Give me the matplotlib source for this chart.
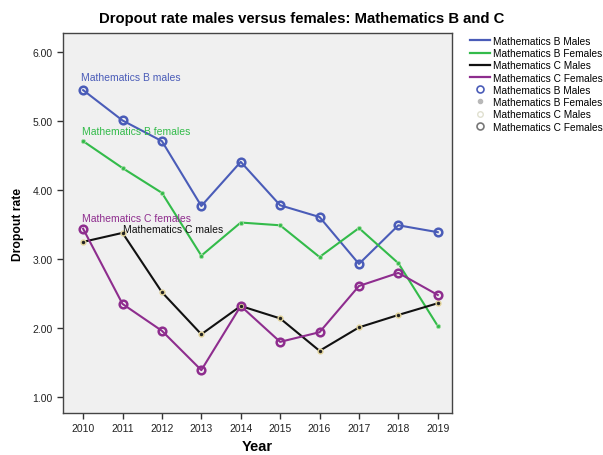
import matplotlib
matplotlib.use("Agg")
import matplotlib.pyplot as plt
from matplotlib.lines import Line2D

plt.rcParams["font.family"] = ["Liberation Sans", "DejaVu Sans"]

years = [2010, 2011, 2012, 2013, 2014, 2015, 2016, 2017, 2018, 2019]
b_males = [5.45, 5.01, 4.71, 3.77, 4.41, 3.78, 3.61, 2.93, 3.49, 3.39]
b_females = [4.71, 4.32, 3.96, 3.05, 3.53, 3.49, 3.03, 3.45, 2.94, 2.03]
c_males = [3.25, 3.38, 2.52, 1.91, 2.32, 2.14, 1.67, 2.01, 2.19, 2.36]
c_females = [3.44, 2.35, 1.96, 1.39, 2.32, 1.80, 1.94, 2.61, 2.80, 2.48]
series_names = ["Mathematics B Males", "Mathematics B Females",
                "Mathematics C Males", "Mathematics C Females"]
y_ticks = [1.0, 2.0, 3.0, 4.0, 5.0, 6.0]

c_bm = "#4a5cb8"
c_bf = "#33bb4a"
c_cm = "#111111"
c_cf = "#8e2d8e"

fig = plt.figure(figsize=(6.03, 4.56), dpi=100)
ax = fig.add_axes([0.1045, 0.092, 0.645, 0.833])
ax.set_facecolor("#f0f0f0")

ax.plot(years, b_males, color=c_bm, lw=1.5, zorder=2)
ax.plot(years, b_females, color=c_bf, lw=1.5, zorder=2)
ax.plot(years, c_males, color=c_cm, lw=1.5, zorder=2)
ax.plot(years, c_females, color=c_cf, lw=1.5, zorder=2)

ax.plot(years, b_males, ls="none", marker="o", ms=5.5, mfc="none", mec=c_bm, mew=1.8, zorder=3)
ax.plot(years, b_females, ls="none", marker="o", ms=3, mfc=c_bf, mec="#a8dca8", mew=0.6, zorder=3)
ax.plot(years, c_males, ls="none", marker="o", ms=3.5, mfc="#222222", mec="#e3d49a", mew=1, zorder=3)
ax.plot(years, c_females, ls="none", marker="o", ms=5.5, mfc="none", mec=c_cf, mew=1.8, zorder=3)

ax.text(2010 - 0.05, b_males[0] + 0.12, "Mathematics B males", color=c_bm, fontsize=7.5, ha="left", va="bottom")
ax.text(2010 - 0.03, b_females[0] + 0.08, "Mathematics B females", color=c_bf, fontsize=7.5, ha="left", va="bottom")
ax.text(2010 - 0.03, c_females[0] + 0.08, "Mathematics C females", color=c_cf, fontsize=7.5, ha="left", va="bottom")
ax.text(2011 + 0.02, c_males[1] - 0.02, "Mathematics C males", color="#111111", fontsize=7.5, ha="left", va="bottom")

ax.set_xlim(2009.49, 2019.36)
ax.set_ylim(0.768, 6.275)
ax.set_xticks(years)
ax.set_xticklabels([str(y) for y in years], fontsize=7.5)
ax.set_yticks(y_ticks)
ax.set_yticklabels([f"{v:.2f}" for v in y_ticks], fontsize=7.5)
ax.tick_params(direction="out", length=4, width=1, colors="#333333", labelcolor="#222222")
for s in ax.spines.values():
    s.set_color("#444444")
    s.set_linewidth(1)

ax.set_xlabel("Year", fontsize=10.5, fontweight="bold", labelpad=4)
ax.set_ylabel("Dropout rate", fontsize=8.7, fontweight="bold", labelpad=6)
fig.text(0.5, 0.958, "Dropout rate males versus females: Mathematics B and C",
         ha="center", va="center", fontsize=10.7, fontweight="bold")

handles = [
    Line2D([], [], color=c_bm, lw=1.6),
    Line2D([], [], color=c_bf, lw=1.6),
    Line2D([], [], color=c_cm, lw=1.6),
    Line2D([], [], color=c_cf, lw=1.6),
    Line2D([], [], ls="none", marker="o", ms=5, mfc="none", mec=c_bm, mew=1.2),
    Line2D([], [], ls="none", marker="o", ms=3, mfc="#b8b8b8", mec="#b8b8b8"),
    Line2D([], [], ls="none", marker="o", ms=4, mfc="none", mec="#e0e0d0"),
    Line2D([], [], ls="none", marker="o", ms=5, mfc="none", mec="#777777", mew=1.2),
]
labels = series_names + series_names
fig.legend(handles, labels, loc="upper left", bbox_to_anchor=(0.772, 0.928),
           frameon=False, fontsize=7.3, handlelength=2.0, labelspacing=0.22,
           handletextpad=0.35, borderaxespad=0)

fig.savefig("out.png", dpi=100, facecolor="white")
